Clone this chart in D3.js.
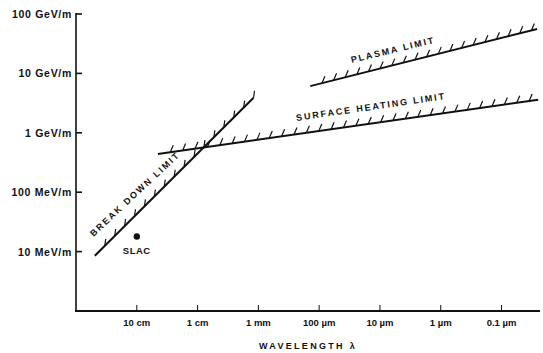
<!DOCTYPE html>
<html>
<head>
<meta charset="utf-8">
<script src="https://cdn.jsdelivr.net/npm/d3@7"></script>
<style>
  body { margin: 0; background: #fff; }
  text { font-family: "Liberation Sans", Arial, sans-serif; font-weight: bold; fill: #111; }
</style>
</head>
<body>
<svg id="chart" width="543" height="353"></svg>
<script>
// wavelength in metres, field in MeV/m
const xTicks = [0.1, 0.01, 1e-3, 1e-4, 1e-5, 1e-6, 1e-7];
const xTickLabels = ["10 cm", "1 cm", "1 mm", "100 \u00b5m", "10 \u00b5m", "1 \u00b5m", "0.1 \u00b5m"];
const yTicks = [1e5, 1e4, 1e3, 100, 10];
const yTickLabels = ["100 GeV/m", "10 GeV/m", "1 GeV/m", "100 MeV/m", "10 MeV/m"];

const breakdownLambda = [0.49, 1.2e-3];
const breakdownField = [8.5, 3900];
const surfaceLambda = [0.045, 2.5e-8];
const surfaceField = [440, 3600];
const plasmaLambda = [1.4e-4, 2.6e-8];
const plasmaField = [6100, 56000];
const slacLambda = 0.1;
const slacField = 18;

let svg = d3.select("#chart");

let x = d3.scaleLog().domain([1, 2.33e-8]).range([76, 540]);
let y = d3.scaleLog().domain([1, 1e5]).range([311, 14]);

// axes
svg.append("line")
    .attr("x1", 76).attr("x2", 76)
    .attr("y1", y(1e5) - 1).attr("y2", 312)
    .attr("stroke", "#111").attr("stroke-width", 1.6);
svg.append("line")
    .attr("x1", 75).attr("x2", 540)
    .attr("y1", 311).attr("y2", 311)
    .attr("stroke", "#111").attr("stroke-width", 2);

svg.selectAll(".ytick").data(yTicks).enter().append("line")
    .attr("x1", 76).attr("x2", 82)
    .attr("y1", d => y(d)).attr("y2", d => y(d))
    .attr("stroke", "#111").attr("stroke-width", 1.6);
svg.selectAll(".ylab").data(yTicks).enter().append("text")
    .attr("x", 72).attr("y", d => y(d))
    .attr("text-anchor", "end").attr("dominant-baseline", "central")
    .style("font-size", "10.5px").style("letter-spacing", "0.7px")
    .text((d, i) => yTickLabels[i]);

svg.selectAll(".xtick").data(xTicks).enter().append("line")
    .attr("x1", d => x(d)).attr("x2", d => x(d))
    .attr("y1", 311).attr("y2", 305)
    .attr("stroke", "#111").attr("stroke-width", 1);
svg.selectAll(".xlab").data(xTicks).enter().append("text")
    .attr("x", d => x(d)).attr("y", 322)
    .attr("text-anchor", "middle").attr("dominant-baseline", "central")
    .style("font-size", "9.5px")
    .text((d, i) => xTickLabels[i]);

svg.append("text")
    .attr("x", 308).attr("y", 346)
    .attr("text-anchor", "middle").attr("dominant-baseline", "central")
    .style("font-size", "9px").style("letter-spacing", "2.3px")
    .text("WAVELENGTH \u03bb");

// hatched limit lines
function limitLine(lams, fields, spacing, hx, hy) {
    let x1 = x(lams[0]), y1 = y(fields[0]);
    let x2 = x(lams[1]), y2 = y(fields[1]);
    svg.append("line")
        .attr("x1", x1).attr("y1", y1).attr("x2", x2).attr("y2", y2)
        .attr("stroke", "#111").attr("stroke-width", 2);
    let len = Math.hypot(x2 - x1, y2 - y1);
    let n = Math.floor(len / spacing);
    let pts = d3.range(1, n + 1).map(i => i * spacing / len);
    svg.selectAll(null).data(pts).enter().append("line")
        .attr("x1", t => x1 + t * (x2 - x1))
        .attr("y1", t => y1 + t * (y2 - y1))
        .attr("x2", t => x1 + t * (x2 - x1) + hx)
        .attr("y2", t => y1 + t * (y2 - y1) + hy)
        .attr("stroke", "#111").attr("stroke-width", 1.2);
}
limitLine(breakdownLambda, breakdownField, 14, 1, -7);
limitLine(surfaceLambda, surfaceField, 12.5, 3, -7);
limitLine(plasmaLambda, plasmaField, 12, 3, -7);

function curveLabel(cx, cy, angle, txt) {
    svg.append("text")
        .attr("transform", "translate(" + cx + "," + cy + ") rotate(" + angle + ")")
        .attr("text-anchor", "middle").attr("dominant-baseline", "central")
        .style("font-size", "9px").style("letter-spacing", "1.9px")
        .text(txt);
}
curveLabel(135, 194, -43, "BREAK DOWN LIMIT");
curveLabel(371, 107, -8.3, "SURFACE HEATING LIMIT");
curveLabel(393, 50, -13.6, "PLASMA LIMIT");

// SLAC point
svg.append("circle")
    .attr("cx", x(slacLambda)).attr("cy", y(slacField))
    .attr("r", 3.2).attr("fill", "#111");
svg.append("text")
    .attr("x", x(slacLambda)).attr("y", y(slacField) + 14)
    .attr("text-anchor", "middle").attr("dominant-baseline", "central")
    .style("font-size", "9.5px").style("letter-spacing", "0.5px")
    .text("SLAC");
</script>
</body>
</html>
